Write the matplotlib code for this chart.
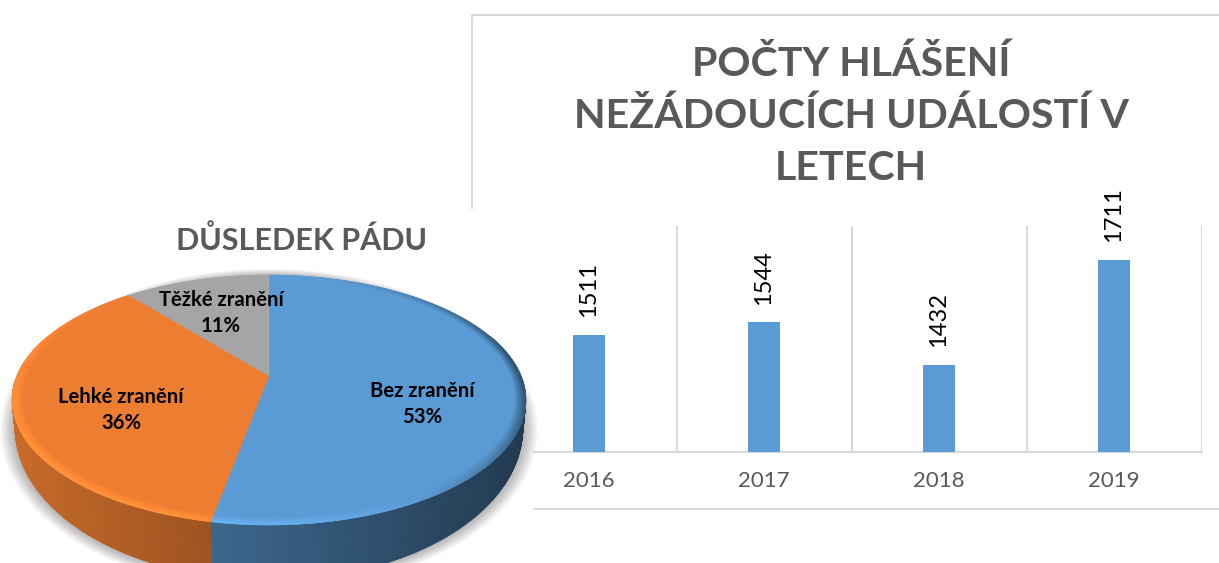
import numpy as np
from matplotlib import pyplot as plt
from matplotlib.collections import PolyCollection
from matplotlib.colors import to_rgb
from matplotlib.patches import Polygon, Rectangle

W, H = 1219, 563

years = ['2016', '2017', '2018', '2019']
reports = [1511, 1544, 1432, 1711]
bar_title = 'POČTY HLÁŠENÍ\nNEŽÁDOUCÍCH UDÁLOSTÍ V\nLETECH'

outcomes = ['Bez zranění', 'Lehké zranění', 'Těžké zranění']
shares = [53, 36, 11]
pie_colors = ['#5B9BD5', '#ED7D31', '#A5A5A5']
pie_title = 'DŮSLEDEK PÁDU'

GREY_TEXT = '#595959'
LINE = '#D9D9D9'
FONT = 'Lato'

# top and bottom disc of the 3d pie, seen in perspective
CX = 269
K = 0.192
TOP = (252, 376, 120.4)
BOTTOM = (249, 399, 146.4)


def disc(theta, scale=1.0, plane=TOP):
    # theta in radians, clockwise from the top of the pie
    a, y0, b = plane
    u = scale * np.sin(theta)
    v = scale * np.cos(theta)
    w = 1 + K * v
    return CX + a * u / w, y0 - b * v / w


def shaded(color, f):
    return tuple(min(1, c * f) for c in to_rgb(color))


def draw_bars(fig):
    ax = fig.add_axes([501.5 / W, (H - 452) / H, 700 / W, 226 / H], zorder=2)
    ax.bar(range(len(years)), reports, width=0.183, color=pie_colors[0], zorder=3)
    ax.set_xlim(-0.5, 3.5)
    ax.set_ylim(1200, 1800)
    ax.set_yticks([])
    ax.set_xticks(range(len(years)), years)
    ax.set_xticks(np.arange(0.5, 3.6), minor=True)
    ax.tick_params(axis='x', which='both', length=0)
    ax.tick_params(axis='x', pad=14, labelsize=16, labelcolor=GREY_TEXT)
    ax.grid(True, axis='x', which='minor', color=LINE, lw=1.5)
    for name, spine in ax.spines.items():
        spine.set_visible(name == 'bottom')
        spine.set_color(LINE)
        spine.set_linewidth(1.5)
    for x, value in enumerate(reports):
        ax.annotate(str(value), (x, value), xytext=(0, 12.5), textcoords='offset points',
                    rotation=90, ha='center', va='bottom', fontsize=17, color='black',
                    family=FONT, annotation_clip=False)
    for label in ax.get_xticklabels():
        label.set_family(FONT)


def draw_pie(ax):
    ax.add_patch(Rectangle((0, 209), 532, H - 209, color='white', zorder=1))

    # soft shadow round the lower edge
    t = np.linspace(0, 2 * np.pi, 200)
    sx, sy = disc(t, 1.0, BOTTOM)
    for grow in np.linspace(1.06, 1.0, 14):
        ax.add_patch(Polygon(np.c_[CX + (sx - CX) * grow, 400 + (sy - 400) * grow],
                             color='black', alpha=0.022, lw=0, zorder=2))

    edges = np.radians(np.cumsum([0] + shares) * 3.6)

    # side wall, darker to the right
    quads, colors = [], []
    for start, stop, color in zip(edges[:-1], edges[1:], pie_colors):
        ts = np.arange(start, stop, np.radians(0.5))
        ts = np.append(ts, stop)
        for t0, t1 in zip(ts[:-1], ts[1:]):
            if np.cos((t0 + t1) / 2) > 0.35:
                continue
            x0, y0 = disc(t0)
            x1, y1 = disc(t1)
            x2, y2 = disc(t1, 1.0, BOTTOM)
            x3, y3 = disc(t0, 1.0, BOTTOM)
            quads.append([(x0, y0), (x1, y1), (x2, y2), (x3, y3)])
            colors.append(shaded(color, 0.858 - 0.00092 * (x0 + x1) / 2))
    ax.add_collection(PolyCollection(quads, facecolors=colors, edgecolors=colors, lw=0.6, zorder=3))

    # top face
    for start, stop, color in zip(edges[:-1], edges[1:], pie_colors):
        ts = np.linspace(start, stop, 120)
        x, y = disc(ts)
        ax.add_patch(Polygon(np.c_[np.r_[CX, x], np.r_[TOP[1], y]], color=color, lw=0.3, zorder=4))

    # bevel on the rim: bright lower left, dark on the right
    quads, colors = [], []
    rings = np.linspace(0.96, 1.0, 8)
    for start, stop, color in zip(edges[:-1], edges[1:], pie_colors):
        ts = np.arange(start, stop, np.radians(1))
        ts = np.append(ts, stop)
        for t0, t1 in zip(ts[:-1], ts[1:]):
            mid = (t0 + t1) / 2
            bright = max(0, np.cos(mid - np.radians(225)))
            dark = max(0, np.cos(mid - np.radians(88))) ** 3
            for i, (r0, r1) in enumerate(zip(rings[:-1], rings[1:])):
                x0, y0 = disc(t0, r0)
                x1, y1 = disc(t1, r0)
                x2, y2 = disc(t1, r1)
                x3, y3 = disc(t0, r1)
                fade = (i + 1) / (len(rings) - 1)
                quads.append([(x0, y0), (x1, y1), (x2, y2), (x3, y3)])
                colors.append(shaded(color, 1 + (0.2 * bright - 0.5 * dark) * fade))
    ax.add_collection(PolyCollection(quads, facecolors=colors, edgecolors=colors, lw=0.3, zorder=5))

    label_pos = [(422, 404), (121, 410), (221, 313)]
    for name, share, (x, y) in zip(outcomes, shares, label_pos):
        ax.text(x, y, f'{name}\n{share}%', ha='center', va='center', fontsize=14.6,
                fontweight='bold', color='black', family=FONT, linespacing=1.4, zorder=6)
    ax.text(301, 240, pie_title, ha='center', va='center', fontsize=22,
            fontweight='bold', color=GREY_TEXT, family=FONT, zorder=6)


def main():
    fig = plt.figure(figsize=(W / 100, H / 100), dpi=100)

    back = fig.add_axes([0, 0, 1, 1], zorder=1)
    back.set_xlim(0, W)
    back.set_ylim(H, 0)
    back.axis('off')
    back.plot([472, 472, W], [209, 15, 15], color=LINE, lw=1.5)
    back.plot([532, W], [509, 509], color=LINE, lw=1.5)
    back.text(851, 116, bar_title, ha='center', va='center', fontsize=29.6, fontweight='bold',
              color=GREY_TEXT, family=FONT, linespacing=1.49)

    draw_bars(fig)

    front = fig.add_axes([0, 0, 1, 1], zorder=3)
    front.set_xlim(0, W)
    front.set_ylim(H, 0)
    front.axis('off')
    draw_pie(front)

    plt.savefig('out.png', dpi=100)


if __name__ == "__main__":
    main()
